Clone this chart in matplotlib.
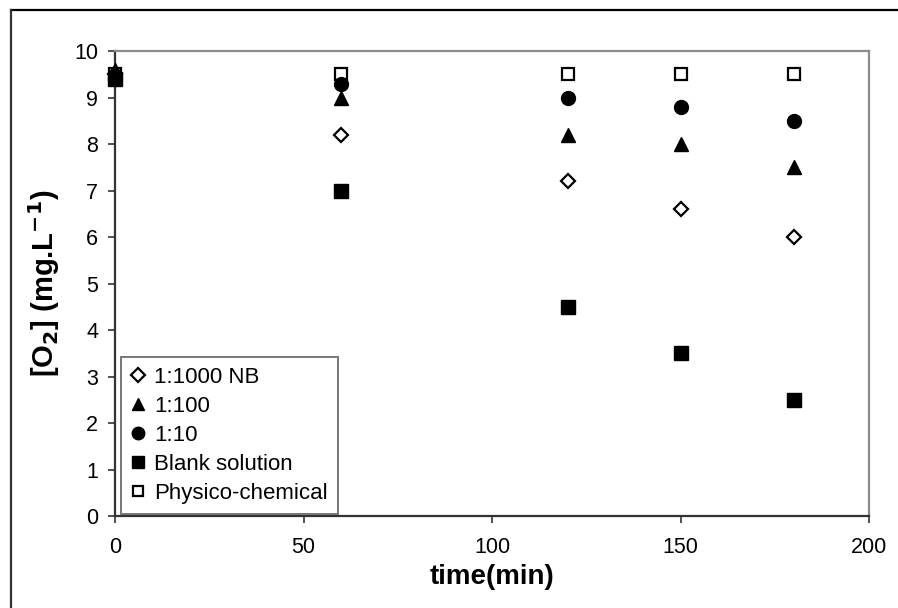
import matplotlib.pyplot as plt
from matplotlib.lines import Line2D

plt.rcParams["font.family"] = ["Liberation Sans", "DejaVu Sans"]

time_min = [0, 60, 120, 150, 180]
nb_1000 = [9.5, 8.2, 7.2, 6.6, 6.0]
nb_100 = [9.6, 9.0, 8.2, 8.0, 7.5]
nb_10 = [9.4, 9.3, 9.0, 8.8, 8.5]
blank = [9.4, 7.0, 4.5, 3.5, 2.5]
physico = [9.5, 9.5, 9.5, 9.5, 9.5]

series = [
    ("1:1000 NB", nb_1000, 4, dict(marker="D", ms=7.5, mfc="white", mec="black", mew=1.6)),
    ("1:100", nb_100, 5, dict(marker="^", ms=10, mfc="black", mec="black")),
    ("1:10", nb_10, 6, dict(marker="o", ms=10, mfc="black", mec="black")),
    ("Blank solution", blank, 7, dict(marker="s", ms=9.5, mfc="black", mec="black")),
    ("Physico-chemical", physico, 3, dict(marker="s", ms=8.5, mfc="white", mec="black", mew=1.6)),
]

fig = plt.figure(figsize=(8.98, 6.08), dpi=100)
ax = fig.add_axes([0.128, 0.151, 0.840, 0.765])

for label, values, z, style in series:
    ax.plot(time_min, values, linestyle="none", label=label, clip_on=False, zorder=z, **style)

ax.set_xlim(0, 200)
ax.set_ylim(0, 10)
ax.set_xticks([0, 50, 100, 150, 200])
ax.set_yticks(range(0, 11))
ax.tick_params(direction="out", length=5, width=1.2, color="#333333", labelsize=15.5)
ax.tick_params(axis="x", pad=10)
ax.tick_params(axis="y", pad=7)

for side in ("left", "bottom"):
    ax.spines[side].set_color("#333333")
    ax.spines[side].set_linewidth(1.6)
for side in ("top", "right"):
    ax.spines[side].set_color("#8c8c8c")
    ax.spines[side].set_linewidth(1.6)

ax.set_xlabel("time(min)", fontsize=20, fontweight="bold", labelpad=4)
ax.set_ylabel(r"[O$_\mathbf{2}$] (mg.L$^\mathbf{-1}$)", fontsize=21, fontweight="bold", labelpad=9)

leg = ax.legend(
    loc="lower left",
    bbox_to_anchor=(0.008, 0.005),
    fontsize=16,
    frameon=True,
    fancybox=False,
    edgecolor="#555555",
    handlelength=0.6,
    handletextpad=0.45,
    labelspacing=0.36,
    borderpad=0.45,
    borderaxespad=0,
    markerscale=0.9,
)
leg.get_frame().set_linewidth(1.4)
leg.get_frame().set_boxstyle("square", pad=0)

# outer chart frame (top and left edges)
fig.add_artist(Line2D([0.012, 1.0], [0.984, 0.984], color="black", lw=1.6))
fig.add_artist(Line2D([0.012, 0.012], [0.0, 0.984], color="#333333", lw=1.6))

fig.savefig("out.png", dpi=100)
plt.close(fig)
